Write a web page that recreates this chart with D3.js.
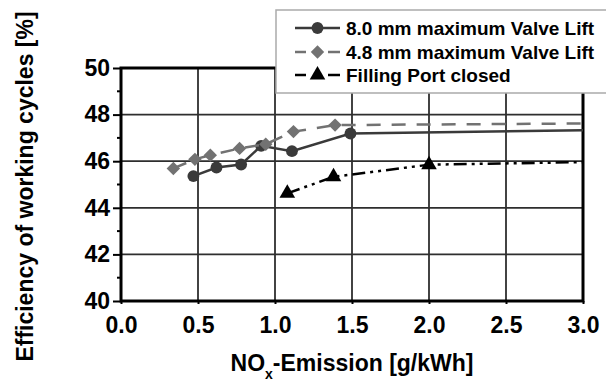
<!DOCTYPE html>
<html>
<head>
<meta charset="utf-8">
<script src="https://cdn.jsdelivr.net/npm/d3@7"></script>
<style>
  body { margin: 0; background: #fff; }
  svg { display: block; font-family: "Liberation Sans", Arial, sans-serif; font-weight: bold; }
</style>
</head>
<body>
<div id="chart"></div>
<script>
// data
const lift80X = [0.47, 0.62, 0.78, 0.91, 1.11, 1.49];
const lift80Y = [45.36, 45.73, 45.86, 46.66, 46.43, 47.19];
const lift48X = [0.34, 0.48, 0.58, 0.77, 0.94, 1.12, 1.39];
const lift48Y = [45.69, 46.08, 46.26, 46.55, 46.73, 47.27, 47.55];
const portX = [1.08, 1.38, 2.0];
const portY = [44.62, 45.33, 45.85];
// trend lines continue (without markers) to the right edge
const tailX = 3.0;
const tailY = { lift80: 47.33, lift48: 47.62, port: 45.96 };

const xTicks = [0, 0.5, 1.0, 1.5, 2.0, 2.5, 3.0];
const yTicks = [40, 42, 44, 46, 48, 50];
const yMinor = [41, 43, 45, 47, 49];
const legendLabels = ["8.0 mm maximum Valve Lift", "4.8 mm maximum Valve Lift", "Filling Port closed"];

const W = 606, H = 383;
const margin = { top: 68, right: 23, bottom: 82, left: 121 };

const svg = d3.select("#chart").append("svg")
    .attr("width", W)
    .attr("height", H);

const x = d3.scaleLinear().domain([0, 3]).range([margin.left, W - margin.right]);
const y = d3.scaleLinear().domain([40, 50]).range([H - margin.bottom, margin.top]);

// grid
const grid = svg.append("g").attr("stroke", "#2e2e2e").attr("stroke-width", 1.8);
grid.selectAll(".gx").data(xTicks).enter().append("line")
    .attr("x1", d => x(d)).attr("x2", d => x(d))
    .attr("y1", y(40)).attr("y2", y(50));
grid.selectAll(".gy").data(yTicks).enter().append("line")
    .attr("x1", x(0)).attr("x2", x(3))
    .attr("y1", d => y(d)).attr("y2", d => y(d));

// axes
const yAxis = d3.axisLeft(y).tickValues(yTicks).tickSize(8).tickPadding(3).tickFormat(d3.format("d"));
const gy = svg.append("g").attr("transform", `translate(${x(0)},0)`).call(yAxis);
gy.select(".domain").remove();
gy.selectAll("line").attr("stroke", "#000").attr("stroke-width", 2);
gy.selectAll("text").attr("font-size", 23).attr("font-weight", "bold").attr("fill", "#000")
    .attr("font-family", "Liberation Sans, Arial, sans-serif");

svg.append("g").selectAll("line").data(yMinor).enter().append("line")
    .attr("x1", x(0) - 4).attr("x2", x(0))
    .attr("y1", d => y(d)).attr("y2", d => y(d))
    .attr("stroke", "#000").attr("stroke-width", 2);

const xAxis = d3.axisBottom(x).tickValues(xTicks).tickSize(3).tickPadding(13).tickFormat(d3.format(".1f"));
const gx = svg.append("g").attr("transform", `translate(0,${y(40)})`).call(xAxis);
gx.select(".domain").remove();
gx.selectAll("line").attr("stroke", "#000").attr("stroke-width", 2);
gx.selectAll("text").attr("font-size", 23).attr("font-weight", "bold").attr("fill", "#000")
    .attr("font-family", "Liberation Sans, Arial, sans-serif");

// frame
svg.append("rect")
    .attr("x", x(0)).attr("y", y(50))
    .attr("width", x(3) - x(0)).attr("height", y(40) - y(50))
    .attr("fill", "none").attr("stroke", "#000").attr("stroke-width", 3);

// series
const line = d3.line().x(d => x(d[0])).y(d => y(d[1]));
const series = [
    { key: "lift80", xs: lift80X, ys: lift80Y, color: "#3a3a3a", dash: null, marker: "circle" },
    { key: "lift48", xs: lift48X, ys: lift48Y, color: "#727272", dash: "14,11", marker: "diamond" },
    { key: "port", xs: portX, ys: portY, color: "#000", dash: "13,5,3,5,3,5", marker: "triangle" }
];

const symbolFor = m => m === "circle" ? d3.symbol(d3.symbolCircle, 110)
    : m === "diamond" ? d3.symbol(d3.symbolSquare, 90)
    : d3.symbol(d3.symbolTriangle, 105);

series.forEach(s => {
    const pts = s.xs.map((v, i) => [v, s.ys[i]]);
    const all = pts.concat([[tailX, tailY[s.key]]]);
    svg.append("path")
        .attr("d", line(all))
        .attr("fill", "none")
        .attr("stroke", s.color)
        .attr("stroke-width", 2.5)
        .attr("stroke-dasharray", s.dash);
    svg.append("g").selectAll("path").data(pts).enter().append("path")
        .attr("d", symbolFor(s.marker))
        .attr("transform", d => `translate(${x(d[0])},${y(d[1])})` + (s.marker === "diamond" ? " rotate(45)" : ""))
        .attr("fill", s.color);
});

// legend
const legend = svg.append("g");
legend.append("rect")
    .attr("x", 276).attr("y", 10).attr("width", 340).attr("height", 83)
    .attr("fill", "#fff").attr("stroke", "#aaa").attr("stroke-width", 1.5);
const rowY = [28, 52, 75];
series.forEach((s, i) => {
    const g = legend.append("g").attr("transform", `translate(0,${rowY[i]})`);
    if (i === 0) {
        g.append("line").attr("x1", 295).attr("x2", 340).attr("stroke", s.color).attr("stroke-width", 2.5);
    } else {
        g.append("line").attr("x1", 295).attr("x2", 306).attr("stroke", s.color).attr("stroke-width", 2.5);
        g.append("line").attr("x1", 328).attr("x2", 340).attr("stroke", s.color).attr("stroke-width", 2.5);
    }
    g.append("path")
        .attr("d", symbolFor(s.marker))
        .attr("transform", `translate(317.5,0)` + (s.marker === "diamond" ? " rotate(45)" : ""))
        .attr("fill", s.color);
    g.append("text")
        .attr("x", 346).attr("y", 7)
        .attr("font-size", 19)
        .attr("fill", "#000")
        .text(legendLabels[i]);
});

// axis titles
const xt = svg.append("text")
    .attr("x", (x(0) + x(3)) / 2).attr("y", 371)
    .attr("text-anchor", "middle")
    .attr("font-size", 23)
    .attr("fill", "#000");
xt.append("tspan").text("NO");
xt.append("tspan").attr("font-size", 14).attr("dy", 8).text("x");
xt.append("tspan").attr("dy", -8).text("-Emission [g/kWh]");

svg.append("text")
    .attr("transform", `translate(33,${(y(40) + y(50)) / 2 + 2}) rotate(-90)`)
    .attr("text-anchor", "middle")
    .attr("font-size", 23)
    .attr("fill", "#000")
    .text("Efficiency of working cycles [%]");
</script>
</body>
</html>
